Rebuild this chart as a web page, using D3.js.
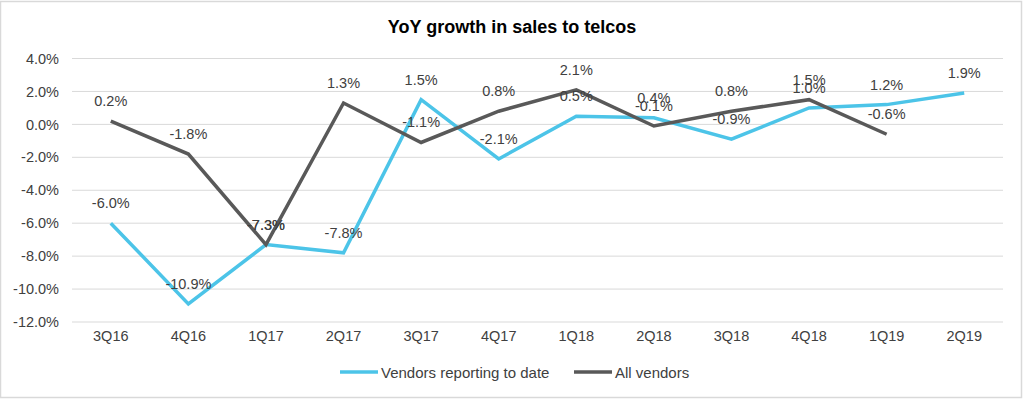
<!DOCTYPE html>
<html>
<head>
<meta charset="utf-8">
<script src="https://cdn.jsdelivr.net/npm/d3@7"></script>
<style>
  body { margin: 0; background: #fff; }
  text { font-family: "Liberation Sans", Arial, sans-serif; fill: #404040; }
</style>
</head>
<body>
<div id="chart"></div>
<script>
// data
var quarters = ["3Q16", "4Q16", "1Q17", "2Q17", "3Q17", "4Q17", "1Q18", "2Q18", "3Q18", "4Q18", "1Q19", "2Q19"];
var reporting = [-6.0, -10.9, -7.3, -7.8, 1.5, -2.1, 0.5, 0.4, -0.9, 1.0, 1.2, 1.9];
var allVendors = [0.2, -1.8, -7.3, 1.3, -1.1, 0.8, 2.1, -0.1, 0.8, 1.5, -0.6, null];
var yTicks = [4, 2, 0, -2, -4, -6, -8, -10, -12];
var seriesNames = ["Vendors reporting to date", "All vendors"];
var seriesColors = ["#4cc4e8", "#595959"];

var W = 1024, H = 399;
var margin = {top: 58.5, right: 21, bottom: 77, left: 72};
var width = W - margin.left - margin.right,
    height = H - margin.top - margin.bottom;

var svg = d3.select("#chart").append("svg")
    .attr("width", W)
    .attr("height", H);

// chart border
svg.append("rect")
    .attr("x", 0.5).attr("y", 1.5)
    .attr("width", W - 3).attr("height", H - 3)
    .attr("fill", "#fff")
    .attr("stroke", "#d9d9d9")
    .attr("stroke-width", 1.5);

svg.append("text")
    .attr("x", 512).attr("y", 33)
    .attr("text-anchor", "middle")
    .style("font-size", "18px")
    .style("font-weight", "bold")
    .style("fill", "#000")
    .text("YoY growth in sales to telcos");

var g = svg.append("g")
    .attr("transform", "translate(" + margin.left + "," + margin.top + ")");

var x = d3.scaleBand().domain(quarters).range([0, width]);
var y = d3.scaleLinear().domain([-12, 4]).range([height, 0]);

// gridlines
g.selectAll(".grid")
    .data(yTicks)
    .enter().append("line")
    .attr("x1", 0).attr("x2", width)
    .attr("y1", function(d) { return y(d); })
    .attr("y2", function(d) { return y(d); })
    .attr("stroke", "#d9d9d9")
    .attr("stroke-width", 1);

// y axis
var yAxis = g.append("g")
    .call(d3.axisLeft(y).tickValues(yTicks).tickSize(0).tickPadding(13)
        .tickFormat(function(d) { return d.toFixed(1) + "%"; }));
yAxis.select(".domain").remove();
yAxis.selectAll("text").style("font-size", "14.5px").attr("fill", "#404040")
    .style("font-family", "Liberation Sans, Arial, sans-serif");

// x axis
var xAxis = g.append("g")
    .attr("transform", "translate(0," + height + ")")
    .call(d3.axisBottom(x).tickSize(0).tickPadding(9));
xAxis.select(".domain").remove();
xAxis.selectAll("text").style("font-size", "14.5px").attr("fill", "#404040")
    .style("font-family", "Liberation Sans, Arial, sans-serif");

var line = d3.line()
    .defined(function(d) { return d != null; })
    .x(function(d, i) { return x(quarters[i]) + x.bandwidth() / 2; })
    .y(function(d) { return y(d); });

var series = [reporting, allVendors];

series.forEach(function(vals, s) {
    g.append("path")
        .datum(vals)
        .attr("fill", "none")
        .attr("stroke", seriesColors[s])
        .attr("stroke-width", 3.5)
        .attr("d", line);
});

// data labels above each point
series.forEach(function(vals, s) {
    var pts = vals.map(function(v, i) { return {q: quarters[i], v: v}; })
        .filter(function(d) { return d.v != null; });
    g.selectAll(".lbl" + s)
        .data(pts)
        .enter().append("text")
        .attr("x", function(d) { return x(d.q) + x.bandwidth() / 2; })
        .attr("y", function(d) { return y(d.v) - 15; })
        .attr("text-anchor", "middle")
        .style("font-size", "14.5px")
        .text(function(d) { return d.v.toFixed(1) + "%"; });
});

// legend
var legend = svg.append("g").attr("transform", "translate(0,372)");
var legendX = [340, 574];
seriesNames.forEach(function(name, s) {
    legend.append("line")
        .attr("x1", legendX[s]).attr("x2", legendX[s] + 38)
        .attr("y1", 0).attr("y2", 0)
        .attr("stroke", seriesColors[s])
        .attr("stroke-width", 3.5);
    legend.append("text")
        .attr("x", legendX[s] + 41).attr("y", 5.5)
        .style("font-size", "15px")
        .text(name);
});
</script>
</body>
</html>
